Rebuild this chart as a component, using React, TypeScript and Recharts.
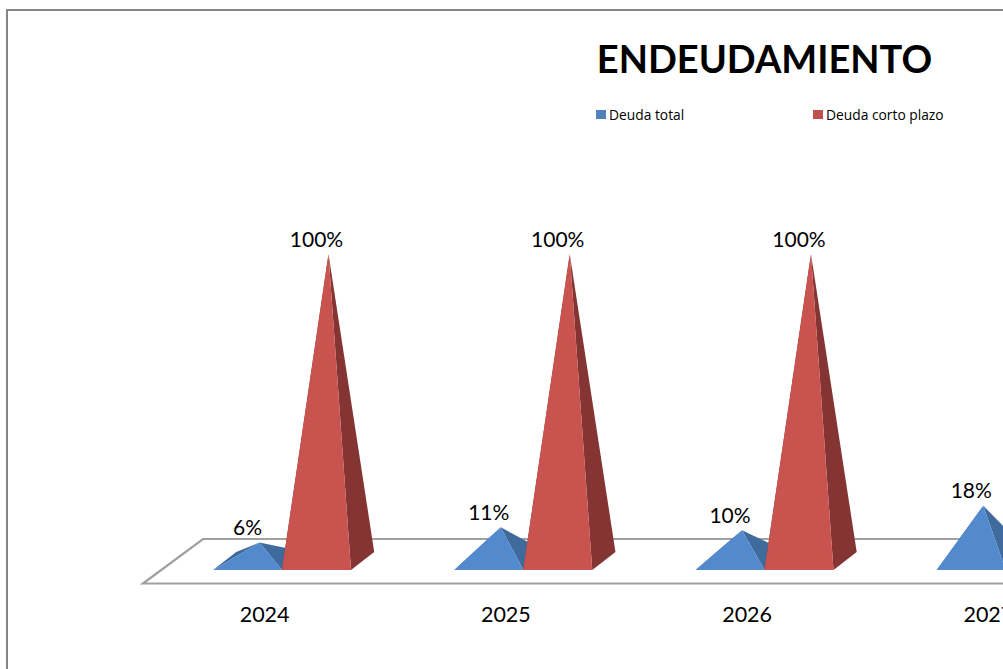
import { BarChart, Bar, XAxis, YAxis, Legend, LabelList, Customized } from "recharts";

const years = ["2024", "2025", "2026", "2027"];
const deudaTotal = [6, 11, 10, 18];
// the 2027 red bar falls outside the picture, so its value can't be read
const deudaCortoPlazo = [100, 100, 100, null];

const data = years.map((year, i) => ({ year, total: deudaTotal[i], corto: deudaCortoPlazo[i] }));

const FONT = "Lato, sans-serif";
// 3D look: how far the front and back of the base sit from the value-axis zero
const FRONT_DX = 18;
const BACK_DX = 41.2;
const APEX_DX = 30;
const DEPTH_DY = 9;

function pyramid(color: string, dark: string) {
  return (props: any) => {
    const { x, y, width, height } = props;
    const base = y + height;
    const frontY = base + DEPTH_DY;
    const backY = base - DEPTH_DY;
    const fl = `${x + FRONT_DX},${frontY}`;
    const fr = `${x + width + FRONT_DX},${frontY}`;
    const bl = `${x + BACK_DX},${backY}`;
    const br = `${x + width + BACK_DX},${backY}`;
    const apex = `${x + width / 2 + APEX_DX},${y}`;
    return (
      <g>
        <polygon points={`${fl} ${bl} ${apex}`} fill={dark} />
        <polygon points={`${fr} ${br} ${apex}`} fill={dark} />
        <polygon points={`${fl} ${fr} ${apex}`} fill={color} />
      </g>
    );
  };
}

function percentLabel(props: any) {
  const { x, y, width, value } = props;
  if (value == null) return null;
  return (
    <text
      x={x + width / 2 + FRONT_DX}
      y={y - 16}
      textAnchor="middle"
      dominantBaseline="central"
      fontFamily={FONT}
      fontSize={21}
      fill="#000"
    >
      {value}%
    </text>
  );
}

function Floor() {
  return (
    <g>
      <polygon points="143,583.5 203,539 1300,539 1300,583.5" fill="#fff" stroke="#a0a0a0" strokeWidth={2.2} />
      <text x={764.5} y={58} textAnchor="middle" dominantBaseline="central" fontFamily={FONT} fontWeight={700} fontSize={38} fill="#000">
        ENDEUDAMIENTO
      </text>
    </g>
  );
}

function LegendRow({ payload }: any) {
  return (
    <div style={{ display: "flex", fontFamily: "'Open Sans', sans-serif", fontSize: 13.8, color: "#000" }}>
      {(payload || []).map((item: any) => (
        <div key={item.value} style={{ display: "flex", alignItems: "center", width: 217 }}>
          <span style={{ width: 10, height: 9, background: item.color, marginRight: 3 }} />
          {item.value}
        </div>
      ))}
    </div>
  );
}

export default function App() {
  return (
    <div style={{ position: "fixed", left: 0, top: 0, width: 1003, height: 669, overflow: "hidden", background: "#fff" }}>
      <div style={{ position: "absolute", left: 6, top: 9, width: 1200, height: 800, border: "2px solid #868686" }} />
      <div style={{ position: "absolute", left: 0, top: 0 }}>
        <BarChart
          width={1200}
          height={669}
          data={data}
          margin={{ top: 254, right: 92, bottom: 48, left: 143 }}
          barGap={0}
          barSize={69}
        >
          <Customized component={Floor} />
          <XAxis
            dataKey="year"
            axisLine={false}
            tickLine={false}
            tickSize={0}
            tickMargin={46}
            height={60}
            tick={{ fontFamily: FONT, fontSize: 21.5, fill: "#000", dx: 1 }}
          />
          <YAxis hide domain={[0, 100]} />
          <Legend
            layout="horizontal"
            align="center"
            verticalAlign="middle"
            itemSorter={null}
            content={<LegendRow />}
            wrapperStyle={{ left: 596, top: 105, width: 440 }}
          />
          <Bar dataKey="total" name="Deuda total" fill="#4F81BD" shape={pyramid("#5389CD", "#3E6A9C")} isAnimationActive={false}>
            <LabelList dataKey="total" content={percentLabel} />
          </Bar>
          <Bar dataKey="corto" name="Deuda corto plazo" fill="#C0504D" shape={pyramid("#C9534F", "#843432")} isAnimationActive={false}>
            <LabelList dataKey="corto" content={percentLabel} />
          </Bar>
        </BarChart>
      </div>
    </div>
  );
}
